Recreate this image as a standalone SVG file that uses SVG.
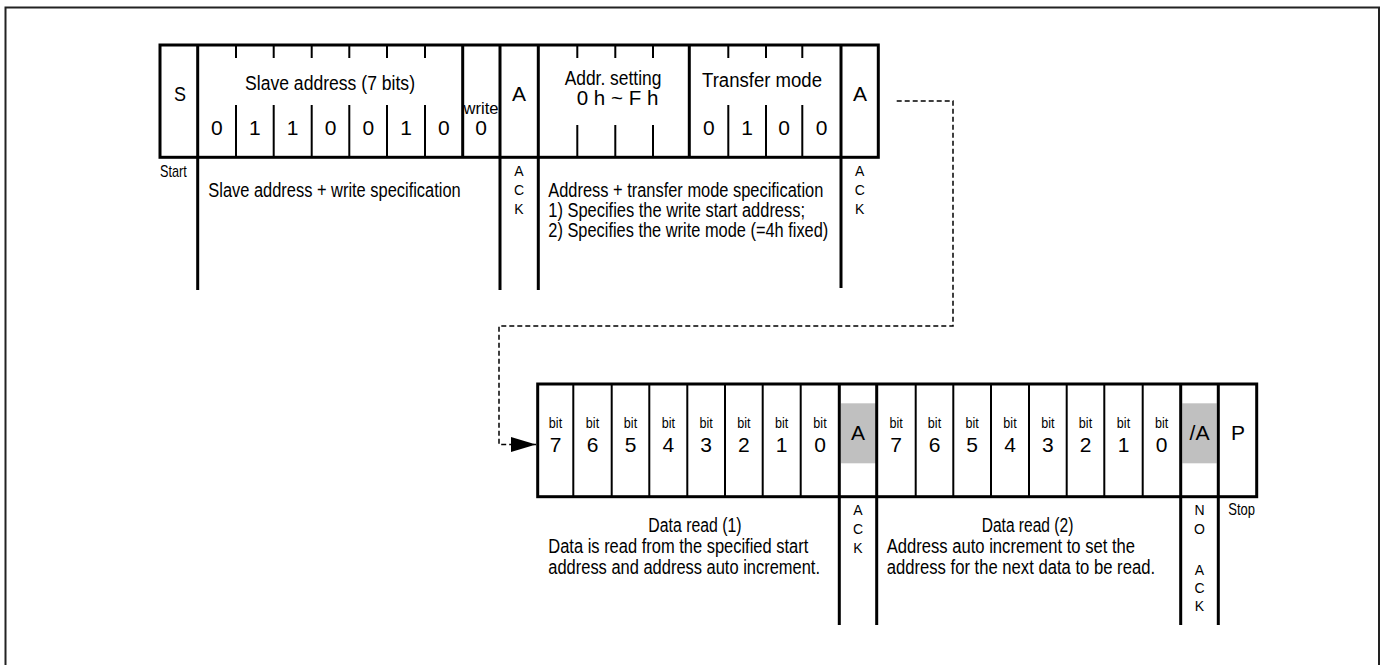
<svg xmlns="http://www.w3.org/2000/svg" width="1386" height="665" viewBox="0 0 1386 665">
<style>
text{font-family:"Liberation Sans",Arial,sans-serif;fill:#000}
.c{text-anchor:middle}
.big{font-size:21px}
.dg{font-size:21px}
.d{font-size:21px}
.p{font-size:20px}
.s{font-size:14px;text-anchor:middle}
.sm{font-size:16px}
.bit{font-size:15px;text-anchor:middle}
.k{stroke:#000;stroke-width:3;fill:none}
.t{stroke:#000;stroke-width:2;fill:none}
.gray{fill:#c0c0c0}
.frame{fill:none;stroke:#222;stroke-width:2}
.dash{fill:none;stroke:#000;stroke-width:1.5;stroke-dasharray:5 3}
</style>
<defs>
<marker id="arr" viewBox="0 0 25 15" refX="25" refY="7.5" markerWidth="25" markerHeight="15" markerUnits="userSpaceOnUse" orient="auto">
<path d="M0,0 L25,7.5 L0,15 z" fill="#000" stroke="none"/>
</marker>
</defs>
<rect class="frame" x="5.5" y="7.5" width="1373.5" height="670"/>

<g id="top-frame">
<rect class="k" x="160" y="45" width="718.3" height="112.3"/>
</g>
<g id="n-S">
<text class="big c" transform="translate(180,100.5) scale(0.8,1)" textLength="15" lengthAdjust="spacingAndGlyphs">S</text>
<text class="sm" transform="translate(160,176.5) scale(0.8,1)" textLength="33.4" lengthAdjust="spacingAndGlyphs">Start</text>
</g>
<g id="n-slave">
<path class="k" d="M197.7,45V290M462.7,45V157"/>
<path class="t" d="M236,45V58M273.7,45V58M311.7,45V58M349.3,45V58M387,45V58M425,45V58M236,105V157M273.7,105V157M311.7,105V157M349.3,105V157M387,105V157M425,105V157"/>
<text class="d c" transform="translate(330,89.5) scale(0.8,1)" textLength="212.5" lengthAdjust="spacingAndGlyphs">Slave address (7 bits)</text>
<text class="dg c" x="216.8" y="134.5">0</text>
<text class="dg c" x="254.8" y="134.5">1</text>
<text class="dg c" x="292.7" y="134.5">1</text>
<text class="dg c" x="330.7" y="134.5">0</text>
<text class="dg c" x="368.3" y="134.5">0</text>
<text class="dg c" x="406" y="134.5">1</text>
<text class="dg c" x="443.8" y="134.5">0</text>
<text class="p" transform="translate(208.3,196.5) scale(0.8,1)" textLength="315.5" lengthAdjust="spacingAndGlyphs">Slave address + write specification</text>
</g>
<g id="n-write">
<text class="sm c" transform="translate(481,114) scale(0.8,1)" textLength="43.75" lengthAdjust="spacingAndGlyphs">write</text>
<text class="dg c" x="481" y="134.5">0</text>
</g>
<g id="n-ack1">
<path class="k" d="M500,45V290M538.3,45V290"/>
<text class="big c" x="519" y="100.5">A</text>
<text class="s" x="519" y="176">A</text>
<text class="s" x="519" y="195">C</text>
<text class="s" x="519" y="214">K</text>
</g>
<g id="n-addr">
<path class="t" d="M577.3,45V58M615.3,45V58M653,45V58M577.3,125V157M615.3,125V157M653,125V157"/>
<text class="p c" transform="translate(613,85) scale(0.8,1)" textLength="120.9" lengthAdjust="spacingAndGlyphs">Addr. setting</text>
<text class="p c" transform="translate(617.5,105) scale(0.8,1)" textLength="102.1" lengthAdjust="spacingAndGlyphs">0 h ~ F h</text>
<text class="p" transform="translate(548.3,196.5) scale(0.8,1)" textLength="343.75" lengthAdjust="spacingAndGlyphs">Address + transfer mode specification</text>
<text class="p" transform="translate(548.3,216.5) scale(0.8,1)" textLength="320.9" lengthAdjust="spacingAndGlyphs">1) Specifies the write start address;</text>
<text class="p" transform="translate(548.3,236.5) scale(0.8,1)" textLength="350" lengthAdjust="spacingAndGlyphs">2) Specifies the write mode (=4h fixed)</text>
</g>
<g id="n-mode">
<path class="k" d="M689.3,45V157"/>
<path class="t" d="M728.3,45V58M766,45V58M802.3,45V58M728.3,105V157M766,105V157M802.3,105V157"/>
<text class="d c" transform="translate(762,87) scale(0.8,1)" textLength="150" lengthAdjust="spacingAndGlyphs">Transfer mode</text>
<text class="dg c" x="708.8" y="134.5">0</text>
<text class="dg c" x="747.2" y="134.5">1</text>
<text class="dg c" x="784.2" y="134.5">0</text>
<text class="dg c" x="821.7" y="134.5">0</text>
</g>
<g id="n-ack2">
<path class="k" d="M841,45V288"/>
<text class="big c" x="860" y="100.5">A</text>
<text class="s" x="859.7" y="176">A</text>
<text class="s" x="859.7" y="195">C</text>
<text class="s" x="859.7" y="214">K</text>
</g>

<g id="connectors">
<path class="dash" d="M896.7,101H953V326H499V444.5H536" marker-end="url(#arr)"/>
</g>

<g id="bottom-frame">
<rect class="gray" x="841" y="403.3" width="35" height="60"/>
<rect class="gray" x="1182.3" y="403.3" width="34.4" height="60"/>
<rect class="k" x="537.7" y="384" width="719" height="112.7"/>
</g>
<g id="n-data1">
<path class="t" d="M573.3,384V496.7M611.7,384V496.7M649.3,384V496.7M687.3,384V496.7M725,384V496.7M762.7,384V496.7M800.7,384V496.7"/>
<text class="bit" transform="translate(555.5,428) scale(0.8,1)" textLength="16.6" lengthAdjust="spacingAndGlyphs">bit</text>
<text class="bit" transform="translate(592.5,428) scale(0.8,1)" textLength="16.6" lengthAdjust="spacingAndGlyphs">bit</text>
<text class="bit" transform="translate(630.5,428) scale(0.8,1)" textLength="16.6" lengthAdjust="spacingAndGlyphs">bit</text>
<text class="bit" transform="translate(668.3,428) scale(0.8,1)" textLength="16.6" lengthAdjust="spacingAndGlyphs">bit</text>
<text class="bit" transform="translate(706.2,428) scale(0.8,1)" textLength="16.6" lengthAdjust="spacingAndGlyphs">bit</text>
<text class="bit" transform="translate(743.9,428) scale(0.8,1)" textLength="16.6" lengthAdjust="spacingAndGlyphs">bit</text>
<text class="bit" transform="translate(781.7,428) scale(0.8,1)" textLength="16.6" lengthAdjust="spacingAndGlyphs">bit</text>
<text class="bit" transform="translate(820,428) scale(0.8,1)" textLength="16.6" lengthAdjust="spacingAndGlyphs">bit</text>
<text class="dg c" x="555.5" y="451.5">7</text>
<text class="dg c" x="592.5" y="451.5">6</text>
<text class="dg c" x="630.5" y="451.5">5</text>
<text class="dg c" x="668.3" y="451.5">4</text>
<text class="dg c" x="706.2" y="451.5">3</text>
<text class="dg c" x="743.9" y="451.5">2</text>
<text class="dg c" x="781.7" y="451.5">1</text>
<text class="dg c" x="820" y="451.5">0</text>
<text class="d c" transform="translate(695,532) scale(0.8,1)" textLength="116.6" lengthAdjust="spacingAndGlyphs">Data read (1)</text>
<text class="d" transform="translate(548.3,553) scale(0.8,1)" textLength="325" lengthAdjust="spacingAndGlyphs">Data is read from the specified start</text>
<text class="d" transform="translate(548.3,574) scale(0.8,1)" textLength="339.6" lengthAdjust="spacingAndGlyphs">address and address auto increment.</text>
</g>
<g id="n-ack3">
<path class="k" d="M839.3,384V625M876.7,384V625"/>
<text class="big c" x="858" y="440">A</text>
<text class="s" x="858" y="515">A</text>
<text class="s" x="858" y="534">C</text>
<text class="s" x="858" y="553">K</text>
</g>
<g id="n-data2">
<path class="t" d="M915.7,384V496.7M953.3,384V496.7M991,384V496.7M1029,384V496.7M1066.7,384V496.7M1104.3,384V496.7M1142.7,384V496.7"/>
<text class="bit" transform="translate(896.2,428) scale(0.8,1)" textLength="16.6" lengthAdjust="spacingAndGlyphs">bit</text>
<text class="bit" transform="translate(934.5,428) scale(0.8,1)" textLength="16.6" lengthAdjust="spacingAndGlyphs">bit</text>
<text class="bit" transform="translate(972.2,428) scale(0.8,1)" textLength="16.6" lengthAdjust="spacingAndGlyphs">bit</text>
<text class="bit" transform="translate(1010,428) scale(0.8,1)" textLength="16.6" lengthAdjust="spacingAndGlyphs">bit</text>
<text class="bit" transform="translate(1047.9,428) scale(0.8,1)" textLength="16.6" lengthAdjust="spacingAndGlyphs">bit</text>
<text class="bit" transform="translate(1085.5,428) scale(0.8,1)" textLength="16.6" lengthAdjust="spacingAndGlyphs">bit</text>
<text class="bit" transform="translate(1123.5,428) scale(0.8,1)" textLength="16.6" lengthAdjust="spacingAndGlyphs">bit</text>
<text class="bit" transform="translate(1161.7,428) scale(0.8,1)" textLength="16.6" lengthAdjust="spacingAndGlyphs">bit</text>
<text class="dg c" x="896.2" y="451.5">7</text>
<text class="dg c" x="934.5" y="451.5">6</text>
<text class="dg c" x="972.2" y="451.5">5</text>
<text class="dg c" x="1010" y="451.5">4</text>
<text class="dg c" x="1047.9" y="451.5">3</text>
<text class="dg c" x="1085.5" y="451.5">2</text>
<text class="dg c" x="1123.5" y="451.5">1</text>
<text class="dg c" x="1161.7" y="451.5">0</text>
<text class="d c" transform="translate(1027.5,532) scale(0.8,1)" textLength="114.6" lengthAdjust="spacingAndGlyphs">Data read (2)</text>
<text class="d" transform="translate(886.7,553) scale(0.8,1)" textLength="310.4" lengthAdjust="spacingAndGlyphs">Address auto increment to set the</text>
<text class="d" transform="translate(886.7,574) scale(0.8,1)" textLength="335.4" lengthAdjust="spacingAndGlyphs">address for the next data to be read.</text>
</g>
<g id="n-nack">
<path class="k" d="M1180.7,384V625M1218.3,384V625"/>
<text class="big c" transform="translate(1199.5,440) scale(0.8,1)" textLength="25" lengthAdjust="spacingAndGlyphs">/A</text>
<text class="s" x="1199.5" y="515">N</text>
<text class="s" x="1199.5" y="534">O</text>
<text class="s" x="1199.5" y="575">A</text>
<text class="s" x="1199.5" y="593">C</text>
<text class="s" x="1199.5" y="611">K</text>
</g>
<g id="n-P">
<text class="big c" x="1238" y="440">P</text>
<text class="sm" transform="translate(1228.3,515) scale(0.8,1)" textLength="33.4" lengthAdjust="spacingAndGlyphs">Stop</text>
</g>
</svg>
